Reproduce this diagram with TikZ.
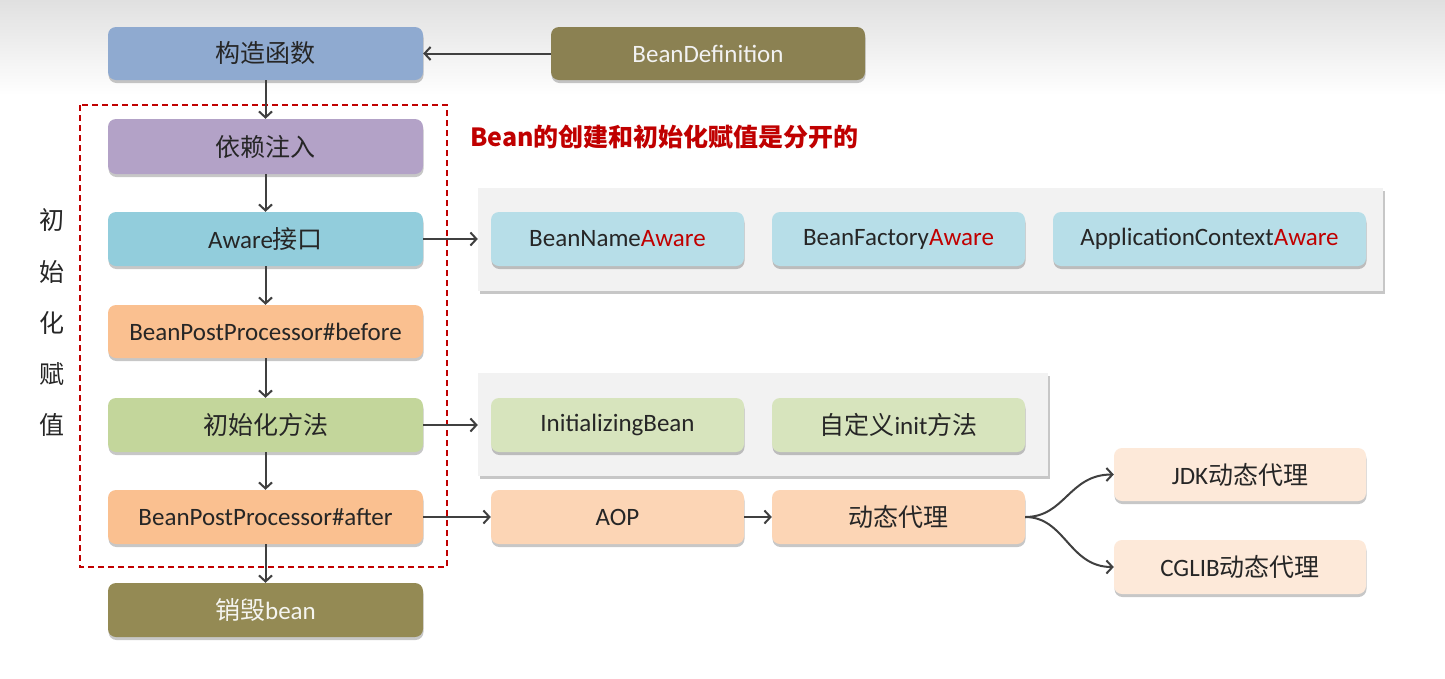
\documentclass[tikz,border=0pt]{standalone}
\usepackage{fontspec}
\setmainfont{Carlito}
\newfontfamily\cjk{Noto Sans CJK SC}
\usetikzlibrary{arrows.meta,shadows}
\definecolor{cblue}{HTML}{8FAAD0}
\definecolor{colive}{HTML}{8B8152}
\definecolor{colive2}{HTML}{948A54}
\definecolor{cpurple}{HTML}{B3A2C7}
\definecolor{ccyan}{HTML}{92CDDC}
\definecolor{corange}{HTML}{FAC090}
\definecolor{cgreen}{HTML}{C3D69B}
\definecolor{clcyan}{HTML}{B7DEE8}
\definecolor{clgreen}{HTML}{D7E4BD}
\definecolor{cpeach}{HTML}{FCD5B5}
\definecolor{cpale}{HTML}{FDE9D9}
\definecolor{cred}{HTML}{C00000}
\definecolor{ctext}{HTML}{262626}
\definecolor{carrow}{HTML}{404040}
\definecolor{cpanel}{HTML}{F2F2F2}
\begin{document}
\begin{tikzpicture}[x=1pt,y=-1pt,
  box/.style={rounded corners=8pt, inner sep=0pt, text=ctext,
    font=\fontsize{25}{29}\selectfont,
    drop shadow={shadow xshift=0.5pt, shadow yshift=-3pt, opacity=0.22, fill=black}},
  panel/.style={fill=cpanel, inner sep=0pt,
    drop shadow={shadow xshift=2pt, shadow yshift=-3pt, opacity=0.22, fill=black}},
  conn/.style={draw=carrow, line width=2pt,
    -{Straight Barb[length=6pt,width=13pt,line width=2pt]}},
  vchar/.style={font=\cjk\fontsize{25}{29}\selectfont, text=ctext, inner sep=0pt},
]
\useasboundingbox (0,0) rectangle (1445,678);
\fill[white] (0,0) rectangle (1445,678);
\shade[top color={rgb,255:red,224;green,224;blue,224}, bottom color=white] (0,0) rectangle (1445,95);

% main column
\node[box, fill=cblue, minimum width=315pt, minimum height=53pt] (ctor) at (265.5,53.5) {\cjk 构造函数};
\node[box, fill=colive, minimum width=314pt, minimum height=53pt, text={rgb,255:red,242;green,242;blue,242}] (bdef) at (708,53.5) {BeanDefinition};
\node[box, fill=cpurple, minimum width=315pt, minimum height=55pt] (dep) at (265.5,146.5) {\cjk 依赖注入};
\node[box, fill=ccyan, minimum width=315pt, minimum height=54pt] (aware) at (265.5,239) {Aware{\cjk 接口}};
\node[box, fill=corange, minimum width=315pt, minimum height=53pt] (before) at (265.5,331.5) {BeanPostProcessor\#before};
\node[box, fill=cgreen, minimum width=315pt, minimum height=54pt] (init) at (265.5,425) {\cjk 初始化方法};
\node[box, fill=corange, minimum width=315pt, minimum height=54pt] (after) at (265.5,517) {BeanPostProcessor\#after};
\node[box, fill=colive2, minimum width=315pt, minimum height=54pt, text={rgb,255:red,245;green,245;blue,240}] (destroy) at (265.5,610) {{\cjk 销毁}bean};

% dashed frame
\draw[cred, line width=1.6pt, dash pattern=on 6pt off 4pt] (80,105) rectangle (447,567);

% side label
\node[vchar] (v1) at (52,220) {初};
\node[vchar] (v2) at (52,272) {始};
\node[vchar] (v3) at (52,323) {化};
\node[vchar] (v4) at (52,374) {赋};
\node[vchar] (v5) at (52,425) {值};

% title
\node[anchor=west, inner sep=0pt, text=cred, font=\cjk\bfseries\fontsize{25}{29}\selectfont] (title) at (470,137) {Bean的创建和初始化赋值是分开的};

% panels
\node[panel, minimum width=905pt, minimum height=103pt] (panelA) at (930.5,239.5) {};
\node[panel, minimum width=570pt, minimum height=103pt] (panelB) at (763,424.5) {};

\node[box, fill=clcyan, minimum width=253pt, minimum height=54pt] (bna) at (617.5,239) {BeanName\textcolor{cred}{Aware}};
\node[box, fill=clcyan, minimum width=253pt, minimum height=54pt] (bfa) at (898.5,239) {BeanFactory\textcolor{cred}{Aware}};
\node[box, fill=clcyan, minimum width=313pt, minimum height=54pt] (aca) at (1209.5,239) {ApplicationContext\textcolor{cred}{Aware}};

\node[box, fill=clgreen, minimum width=253pt, minimum height=54pt] (ib) at (617.5,425) {InitializingBean};
\node[box, fill=clgreen, minimum width=253pt, minimum height=54pt] (cinit) at (898.5,425) {{\cjk 自定义}init{\cjk 方法}};

\node[box, fill=cpeach, minimum width=253pt, minimum height=54pt] (aop) at (617.5,517) {AOP};
\node[box, fill=cpeach, minimum width=253pt, minimum height=54pt] (dyn) at (898.5,517) {\cjk 动态代理};
\node[box, fill=cpale, minimum width=252pt, minimum height=53pt] (jdk) at (1240,474.5) {JDK{\cjk 动态代理}};
\node[box, fill=cpale, minimum width=252pt, minimum height=54pt] (cglib) at (1240,567) {CGLIB{\cjk 动态代理}};

% connectors
\draw[conn] (bdef.west) -- (ctor.east);
\draw[conn] (ctor.south) -- (dep.north);
\draw[conn] (dep.south) -- (aware.north);
\draw[conn] (aware.south) -- (before.north);
\draw[conn] (before.south) -- (init.north);
\draw[conn] (init.south) -- (after.north);
\draw[conn] (after.south) -- (destroy.north);
\draw[conn] (aware.east) -- (aware.east -| panelA.west);
\draw[conn] (init.east) -- (init.east -| panelB.west);
\draw[conn] (after.east) -- (aop.west);
\draw[conn] (aop.east) -- (dyn.west);
\draw[conn] (dyn.east) .. controls +(40,0) and +(-45,0) .. (jdk.west);
\draw[conn] (dyn.east) .. controls +(40,0) and +(-45,0) .. (cglib.west);
\end{tikzpicture}
\end{document}
